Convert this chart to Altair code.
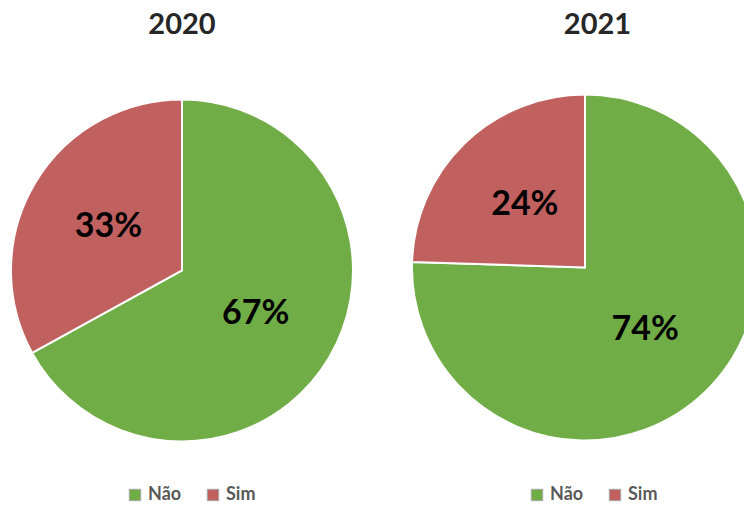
import altair as alt
import pandas as pd

categories = ["Não", "Sim"]
values_2020 = [67, 33]
values_2021 = [74, 24]
labels_2020 = ["67%", "33%"]
labels_2021 = ["74%", "24%"]
colors = ["#70AD47", "#C0605F"]


def pie(year, values, labels, width, cx, cy, r, legend_x, title_dx):
    df = pd.DataFrame({"cat": categories, "value": values, "label": labels})
    color = alt.Color(
        "cat:N",
        scale=alt.Scale(domain=categories, range=colors),
        legend=alt.Legend(
            title=None, orient="none", legendX=legend_x, legendY=397,
            direction="horizontal", symbolType="square", symbolSize=130,
            symbolStrokeColor="#A6A6A6", symbolStrokeWidth=1,
            labelFont="Lato", labelFontSize=18, labelFontWeight="bold",
            labelColor="#595959", labelOffset=4, columnPadding=22,
        ),
    )
    base = alt.Chart(df).encode(
        theta=alt.Theta("value:Q", stack=True),
        order=alt.Order("cat:N", sort="ascending"),
    )
    arc = base.mark_arc(outerRadius=r, stroke="white", strokeWidth=2, clip=True).encode(
        color=color, x=alt.value(cx), y=alt.value(cy)
    )
    text = base.mark_text(
        radius=r * 0.5, font="Lato", fontSize=34, fontWeight="bold", color="black"
    ).encode(text="label:N", x=alt.value(cx), y=alt.value(cy))
    return alt.layer(arc, text).properties(
        width=width, height=354,
        title=alt.TitleParams(year, font="Lato", fontSize=29, fontWeight="bold",
                              color="#262626", offset=49, dx=title_dx),
    )


c1 = pie("2020", values_2020, labels_2020, 348, 174, 181.5, 171, 118, 0)
c2 = pie("2021", values_2021, labels_2021, 333, 174, 178.5, 173, 117, 20)

chart = (
    alt.hconcat(c1, c2, spacing=55)
    .resolve_scale(color="independent", theta="independent")
    .resolve_legend(color="independent")
    .properties(padding={"top": 3, "left": 0, "right": 0, "bottom": 0})
    .configure_view(stroke=None)
)

chart.save("out.html", embed_options={"renderer": "svg", "actions": False})
